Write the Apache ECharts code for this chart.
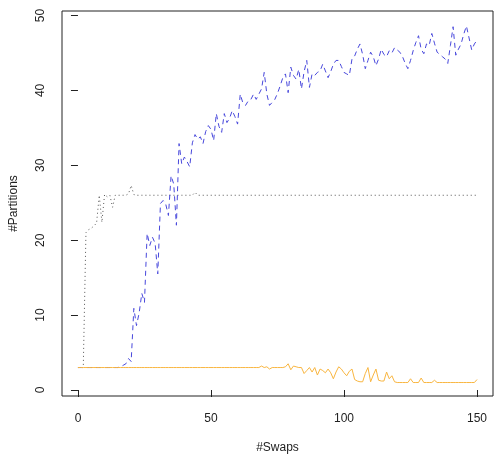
<!DOCTYPE html>
<html>
<head>
<meta charset="utf-8">
<script src="https://cdn.jsdelivr.net/npm/echarts@6/dist/echarts.min.js"></script>
<style>
  html, body { margin: 0; padding: 0; background: #fff; }
  #main { width: 498px; height: 462px; }
</style>
</head>
<body>
<div id="main"></div>
<script>
// x positions: number of swaps 0..150
var swaps = [];
for (var i = 0; i <= 150; i++) { swaps.push(i); }

// black dotted series
var dotted = [
  3, 3, 3, 21, 21.4, 21.6, 21.9, 22.3, 26, 22.4,
  26.1, 25.8, 26, 24.4, 26, 26, 26, 26, 26, 26.2,
  27.3, 26.1, 26, 26, 26, 26, 26, 26, 26, 26,
  26, 26, 26, 26, 26, 26, 26, 26, 26, 26,
  26, 26, 26, 26, 26.4, 26, 26, 26, 26, 26,
  26, 26, 26, 26, 26, 26, 26, 26, 26, 26,
  26, 26, 26, 26, 26, 26, 26, 26, 26, 26,
  26, 26, 26, 26, 26, 26, 26, 26, 26, 26,
  26, 26, 26, 26, 26, 26, 26, 26, 26, 26,
  26, 26, 26, 26, 26, 26, 26, 26, 26, 26,
  26, 26, 26, 26, 26, 26, 26, 26, 26, 26,
  26, 26, 26, 26, 26, 26, 26, 26, 26, 26,
  26, 26, 26, 26, 26, 26, 26, 26, 26, 26,
  26, 26, 26, 26, 26, 26, 26, 26, 26, 26,
  26, 26, 26, 26, 26, 26, 26, 26, 26, 26,
  26
];

// blue dashed series
var dashed = [
  3, 3, 3, 3, 3, 3, 3, 3, 3, 3,
  3, 3, 3, 3, 3, 3, 3.1, 3.3, 3.5, 4.2,
  3.8, 10.9, 8.6, 10.3, 12.9, 11.7, 20.9, 19.3, 20.4, 19.6,
  15.5, 24.9, 25.3, 24.8, 23.3, 28.6, 27.5, 22.0, 32.9, 30.2,
  31.1, 30.5, 29.8, 33.0, 34.1, 33.5, 33.8, 32.9, 34.5, 35.3,
  34.8, 33.3, 36.9, 35.2, 34.4, 36.9, 35.7, 36.3, 37.3, 36.5,
  35.5, 39.5, 38.3, 38.0, 38.6, 38.8, 39.5, 38.8, 39.5, 40.2,
  42.4, 39.5, 38.0, 38.4, 38.8, 39.6, 40.6, 41.7, 42.2, 39.7,
  43.1, 42.0, 41.5, 42.8, 40.2, 42.5, 44.0, 40.4, 42.2, 42.0,
  42.4, 42.6, 43.5, 42.6, 41.7, 42.5, 43.5, 44.0, 44.0, 43.2,
  42.4, 42.2, 42.0, 44.2, 44.6, 45.5, 46.2, 44.8, 42.9, 44.0,
  45.1, 44.5, 43.3, 44.2, 45.5, 44.8, 44.5, 45.3, 45.0, 45.7,
  45.4, 45.1, 44.5, 43.6, 42.9, 44.0, 45.3, 46.4, 47.3, 45.5,
  44.9, 46.2, 46.0, 47.6, 46.3, 45.1, 44.8, 44.5, 44.2, 43.6,
  46.0, 48.5, 44.7, 45.5, 46.2, 47.5, 48.6, 47.0, 45.4, 46.2,
  46.7
];

// orange solid series
var solid = [
  3, 3, 3, 3, 3, 3, 3, 3, 3, 3,
  3, 3, 3, 3, 3, 3, 3, 3, 3, 3,
  3, 3, 3, 3, 3, 3, 3, 3, 3, 3,
  3, 3, 3, 3, 3, 3, 3, 3, 3, 3,
  3, 3, 3, 3, 3, 3, 3, 3, 3, 3,
  3, 3, 3, 3, 3, 3, 3, 3, 3, 3,
  3, 3, 3, 3, 3, 3, 3, 3, 3, 3.2,
  3.0, 3.1, 2.8, 3, 3, 3, 3, 3, 3.1, 3.5,
  2.7, 3.2, 3.1, 3, 3, 2.2, 2.6, 3, 2.4, 3,
  2.0, 2.8, 2.6, 2.3, 2.8, 2.3, 1.5, 2.4, 3.1, 2.8,
  2.3, 1.9, 2.5, 2.8, 1.4, 1.2, 1.1, 1.1, 2.2, 3.0,
  1.1, 2.0, 2.8, 1.3, 1.2, 1.2, 2.4, 1.5, 1.9, 1.1,
  1, 1, 1, 1, 1, 1.5, 1, 1, 1, 1.6,
  1, 1, 1, 1, 1.3, 1, 1, 1, 1, 1,
  1, 1, 1, 1, 1, 1, 1, 1, 1, 1,
  1.4
];

var xTicks = [0, 50, 100, 150];
var yTicks = [0, 10, 20, 30, 40, 50];

function pairs(ys) {
  var out = [];
  for (var k = 0; k < swaps.length; k++) { out.push([swaps[k], ys[k]]); }
  return out;
}

var font = 'Liberation Sans, Arial, sans-serif';
var myChart = echarts.init(document.getElementById('main'));
var option = {
  animation: false,
  backgroundColor: '#fff',
  grid: {
    left: 62, right: 5, top: 11, bottom: 66,
    containLabel: false,
    outerBoundsMode: 'none',
    show: true, borderColor: '#222', borderWidth: 1, backgroundColor: 'transparent'
  },
  xAxis: {
    type: 'value', min: -6, max: 156,
    name: '#Swaps', nameLocation: 'middle', nameGap: 46,
    nameTextStyle: { fontFamily: font, fontSize: 12, color: '#222' },
    axisLine: { show: false },
    splitLine: { show: false },
    axisTick: { show: true, customValues: xTicks, length: 7, inside: false, lineStyle: { color: '#222' } },
    axisLabel: { customValues: xTicks, margin: 17, fontFamily: font, fontSize: 12, color: '#222' }
  },
  yAxis: {
    type: 'value', min: -0.8, max: 50.6,
    name: '#Partitions', nameLocation: 'middle', nameGap: 42,
    nameTextStyle: { fontFamily: font, fontSize: 12, color: '#222' },
    axisLine: { show: false },
    splitLine: { show: false },
    axisTick: { show: true, customValues: yTicks, length: 7, inside: false, lineStyle: { color: '#222' } },
    axisLabel: { customValues: yTicks, rotate: 90, margin: 15, fontFamily: font, fontSize: 12, color: '#222' }
  },
  series: [
    {
      type: 'line', data: pairs(dotted), showSymbol: false, z: 2,
      lineStyle: { color: '#555', width: 1, type: [1, 3] }
    },
    {
      type: 'line', data: pairs(dashed), showSymbol: false, z: 3,
      lineStyle: { color: '#4848dc', width: 1, type: [5, 4] }
    },
    {
      type: 'line', data: pairs(solid), showSymbol: false, z: 4,
      lineStyle: { color: '#f9b640', width: 1 }
    }
  ]
};
myChart.setOption(option);
</script>
</body>
</html>
